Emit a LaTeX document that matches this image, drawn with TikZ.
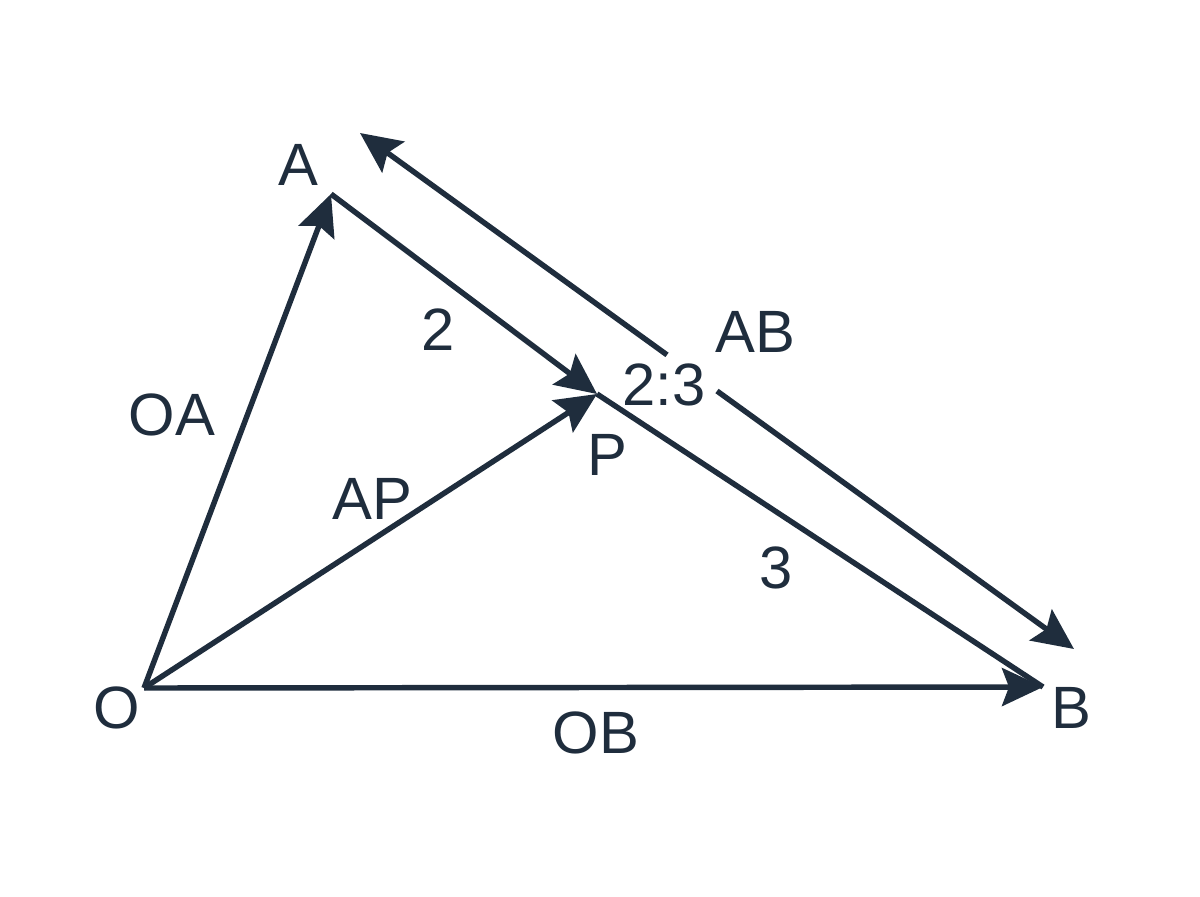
\documentclass[tikz,border=0pt]{standalone}
\usepackage{fontspec}
\setmainfont{Liberation Sans}
\usetikzlibrary{arrows.meta}
\usetikzlibrary{calc}
\definecolor{inkblue}{RGB}{31,45,61}
\tikzset{
	seg/.style={draw=inkblue, line width=3.1pt},
	vec/.style={seg, -{Stealth[length=0.82cm, width=0.76cm, inset=0.14cm]}},
	lbl/.style={text=inkblue, font=\fontsize{34}{40}\selectfont, inner sep=0pt, text height=24.4pt, text depth=0pt}
}

\begin{document}
\begin{tikzpicture}[x=0.02cm, y=-0.02cm]
		\useasboundingbox (0,0) rectangle (1200,896);
		% points of the triangle
		\coordinate (O) at (144,688);
		\coordinate (A) at (331,194);
		\coordinate (B) at (1043,687);
		\coordinate (P) at (597,394);
		% parallel arrow beside AB
		\coordinate (ABtop) at (360,133);
		\coordinate (ABbot) at (1074,649);
		\coordinate (gapA) at ($(ABtop)!0.43!(ABbot)$);
		\coordinate (gapB) at ($(ABtop)!0.50!(ABbot)$);

		\draw[vec] (O) -- (A);
		\draw[vec] (O) -- (B);
		\draw[vec] (O) -- (P);
		\draw[vec] (A) -- (P);
		\draw[seg] (P) -- (B);
		\draw[vec] (gapA) -- (ABtop);
		\draw[vec] (gapB) -- (ABbot);

		\node[lbl] (labO) at (117,707) {O};
		\node[lbl] (labA) at (298,164) {A};
		\node[lbl] (labB) at (1071,707) {B};
		\node[lbl] (labP) at (607,454) {P};
		\node[lbl] (labOA) at (172,414) {OA};
		\node[lbl] (labAP) at (372,498) {AP};
		\node[lbl] (labOB) at (596,732) {OB};
		\node[lbl] (labAB) at (755,331) {AB};
		\node[lbl] (labTwo) at (438,329) {2};
		\node[lbl] (labThree) at (776,567) {3};
		\node[lbl] (labRatio) at (664,384) {2:3};
	\end{tikzpicture}
\end{document}
